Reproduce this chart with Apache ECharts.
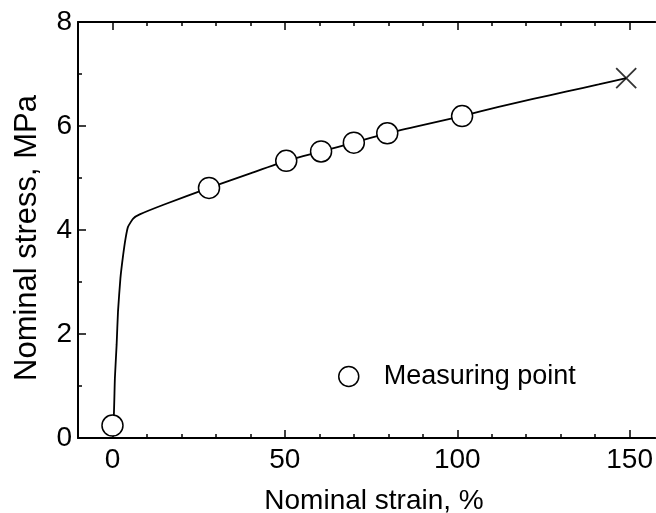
<!DOCTYPE html>
<html>
<head>
<meta charset="utf-8">
<script src="https://cdn.jsdelivr.net/npm/echarts@6/dist/echarts.min.js"></script>
<style>
html,body{margin:0;padding:0;background:#fff;}
#chart{width:656px;height:513px;}
</style>
</head>
<body>
<div id="chart"></div>
<script>
// Stress-strain curve (nominal strain %, nominal stress MPa)
var curveStrain = [0, 0.4, 0.7, 1.2, 1.6, 2.3, 3.1, 3.8, 4.5, 6.0, 7.9, 15, 28, 40, 50.4, 60.5, 70, 79.7, 88, 101.4, 112, 122, 131.5, 141, 149];
var curveStress = [0.24, 0.44, 1.15, 1.79, 2.43, 3.07, 3.52, 3.84, 4.06, 4.22, 4.30, 4.49, 4.81, 5.09, 5.33, 5.51, 5.68, 5.86, 5.99, 6.19, 6.37, 6.52, 6.66, 6.80, 6.92];
// Measuring points
var pointStrain = [0, 28, 50.4, 60.5, 70, 79.7, 101.4];
var pointStress = [0.24, 4.81, 5.33, 5.51, 5.68, 5.86, 6.19];
// Fracture point
var breakStrain = [149];
var breakStress = [6.92];
// Tick labels
var xMajorTicks = [0, 50, 100, 150];
var xMinorTicks = [-10, 10, 20, 30, 40, 60, 70, 80, 90, 110, 120, 130, 140];
var legendName = 'Measuring point';
var xTitle = 'Nominal strain, %';
var yTitle = 'Nominal stress, MPa';

function zip(a, b) { return a.map(function (v, i) { return [v, b[i]]; }); }

var FONT = '"Liberation Sans", Arial, sans-serif';
var chart = echarts.init(document.getElementById('chart'));

function xAx(pos, major, showLine, showLabel) {
  return {
    type: 'value', position: pos, gridIndex: 0,
    min: -10, max: 157.4, interval: 10,
    axisLine: { show: showLine, onZero: false, lineStyle: { color: '#000', width: 2 } },
    axisTick: { show: true, inside: true, length: major ? 8 : 4,
      customValues: major ? xMajorTicks : xMinorTicks,
      lineStyle: { color: '#000', width: 1.5 } },
    axisLabel: { show: showLabel, customValues: xMajorTicks, color: '#000',
      fontFamily: FONT, fontSize: 28, margin: 8 },
    splitLine: { show: false }
  };
}

chart.setOption({
  animation: false,
  backgroundColor: '#fff',
  grid: { left: 78, top: 22, right: 0, height: 416 },
  xAxis: [
    xAx('bottom', true, true, true),
    xAx('bottom', false, false, false),
    xAx('top', true, true, false),
    xAx('top', false, false, false)
  ],
  yAxis: [{
    type: 'value', position: 'left',
    min: 0, max: 8, interval: 2,
    axisLine: { show: true, onZero: false, lineStyle: { color: '#000', width: 2 } },
    axisTick: { show: true, inside: true, length: 8, lineStyle: { color: '#000', width: 1.5 } },
    minorTick: { show: true, splitNumber: 2, length: 4, lineStyle: { color: '#000', width: 1.5 } },
    axisLabel: { color: '#000', fontFamily: FONT, fontSize: 28, margin: 6 },
    splitLine: { show: false }
  }],
  legend: {
    data: [legendName],
    left: 338, top: 363, padding: 0,
    itemWidth: 20, itemHeight: 20,
    icon: 'circle',
    itemStyle: { color: '#fff', borderColor: '#000', borderWidth: 1.5 },
    textStyle: { color: '#000', fontFamily: FONT, fontSize: 27, padding: [0, 0, 0, 20] }
  },
  graphic: [
    { type: 'text', x: 374, y: 501, style: { text: xTitle, fill: '#000', font: '28px ' + FONT, align: 'center', verticalAlign: 'middle' } },
    { type: 'text', x: 27, y: 238, rotation: Math.PI / 2, style: { text: yTitle, fill: '#000', font: '31px ' + FONT, align: 'center', verticalAlign: 'middle' } }
  ],
  series: [
    {
      type: 'line', name: 'curve', xAxisIndex: 0, yAxisIndex: 0,
      data: zip(curveStrain, curveStress), showSymbol: false, symbol: 'none',
      smooth: 0.15, lineStyle: { color: '#000', width: 1.8 }, z: 2
    },
    {
      type: 'scatter', name: legendName, xAxisIndex: 0, yAxisIndex: 0,
      data: zip(pointStrain, pointStress), symbol: 'circle', symbolSize: 21,
      itemStyle: { color: '#fff', borderColor: '#000', borderWidth: 1.5, opacity: 1 }, z: 3
    },
    {
      type: 'scatter', name: 'Fracture', xAxisIndex: 0, yAxisIndex: 0,
      data: zip(breakStrain, breakStress), symbol: 'path://M0,0L20,20M20,0L0,20', symbolSize: 20,
      itemStyle: { color: 'none', borderColor: '#000', borderWidth: 1.8 }, z: 3
    }
  ]
});
</script>
</body>
</html>
